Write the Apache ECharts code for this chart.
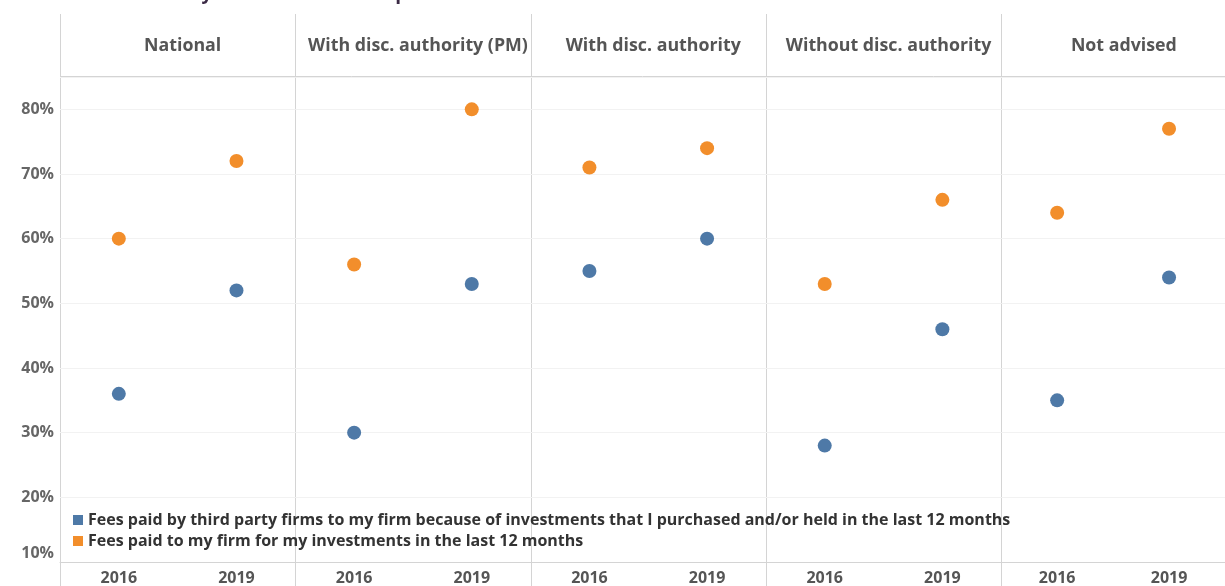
<!DOCTYPE html>
<html>
<head>
<meta charset="utf-8">
<script src="https://cdn.jsdelivr.net/npm/echarts@6/dist/echarts.min.js"></script>
<style>
  html, body { margin: 0; padding: 0; background: #fff; }
  #main { width: 1225px; height: 586px; }
</style>
</head>
<body>
<div id="main"></div>
<script>
var panels = ['National', 'With disc. authority (PM)', 'With disc. authority', 'Without disc. authority', 'Not advised'];
var years = ['2016', '2019'];
var seriesNames = [
  'Fees paid by third party firms to my firm because of investments that I purchased and/or held in the last 12 months',
  'Fees paid to my firm for my investments in the last 12 months'
];
// one pair [2016, 2019] per panel
var thirdParty = [[36, 52], [30, 53], [55, 60], [28, 46], [35, 54]];
var myFirm = [[60, 72], [56, 80], [71, 74], [53, 66], [64, 77]];
var colors = ['#4e79a7', '#f28e2b'];

var left0 = 60, pw = 235.3, top0 = 77, bottom0 = 563;
var font = '"Open Sans", sans-serif';

var grids = [], xAxes = [], yAxes = [], series = [], titles = [], lines = [];

titles.push({
  text: 'Awareness of fees by advisor relationship',
  left: 8, top: -21,
  textStyle: { fontSize: 19, fontWeight: 'bold', color: '#3b2a45', fontFamily: font }
});

var yLabelStyle = { color: '#666', fontSize: 16, fontWeight: 'bold', fontFamily: font };

for (var i = 0; i < panels.length; i++) {
  var x = left0 + i * pw;
  grids.push({ left: x, top: top0, width: pw, height: bottom0 - top0 });
  xAxes.push({
    gridIndex: i, type: 'category', data: years, boundaryGap: true,
    axisLine: { show: true, lineStyle: { color: '#d4d4d4' } },
    axisTick: { show: false },
    axisLabel: { color: '#555', fontSize: 16, fontWeight: 'bold', fontFamily: font, margin: 8 }
  });
  yAxes.push({
    gridIndex: i, type: 'value', min: 10, max: 85, interval: 10,
    axisLine: { show: false }, axisTick: { show: false },
    splitLine: { lineStyle: { color: '#f2f2f2' } },
    axisLabel: {
      show: i === 0, showMaxLabel: false,
      formatter: function (v) { return v === 10 ? '{low|' + v + '%}' : v + '%'; },
      rich: { low: { color: '#666', fontSize: 16, fontWeight: 'bold', fontFamily: font, padding: [0, 0, 18, 0] } },
      color: '#666', fontSize: 16, fontWeight: 'bold', fontFamily: font, margin: 6
    }
  });
  series.push({
    name: seriesNames[0], type: 'scatter', xAxisIndex: i, yAxisIndex: i,
    symbolSize: 14, itemStyle: { color: colors[0], opacity: 1 },
    data: thirdParty[i]
  });
  series.push({
    name: seriesNames[1], type: 'scatter', xAxisIndex: i, yAxisIndex: i,
    symbolSize: 14, itemStyle: { color: colors[1], opacity: 1 },
    data: myFirm[i]
  });
  titles.push({
    text: panels[i], left: x + pw / 2, top: 32, textAlign: 'center',
    textStyle: { fontSize: 17.8, fontWeight: 'bold', color: '#555', fontFamily: font }
  });
  // panel separators
  lines.push({
    type: 'line', silent: true,
    shape: { x1: Math.round(x) + 0.5, y1: 14, x2: Math.round(x) + 0.5, y2: 586 },
    style: { stroke: '#d4d4d4', lineWidth: 1 }
  });
}
// header bottom line
lines.push({
  type: 'line', silent: true,
  shape: { x1: left0, y1: 76.5, x2: 1225, y2: 76.5 },
  style: { stroke: '#d4d4d4', lineWidth: 1 }
});

var chart = echarts.init(document.getElementById('main'));
chart.setOption({
  animation: false,
  color: colors,
  title: titles,
  grid: grids,
  xAxis: xAxes,
  yAxis: yAxes,
  legend: {
    orient: 'vertical', left: 68, top: 507,
    icon: 'rect', itemWidth: 10, itemHeight: 10, itemGap: 5,
    textStyle: { fontSize: 16, fontWeight: 'bold', color: '#333', fontFamily: font },
    data: seriesNames
  },
  graphic: lines,
  series: series
});
</script>
</body>
</html>
